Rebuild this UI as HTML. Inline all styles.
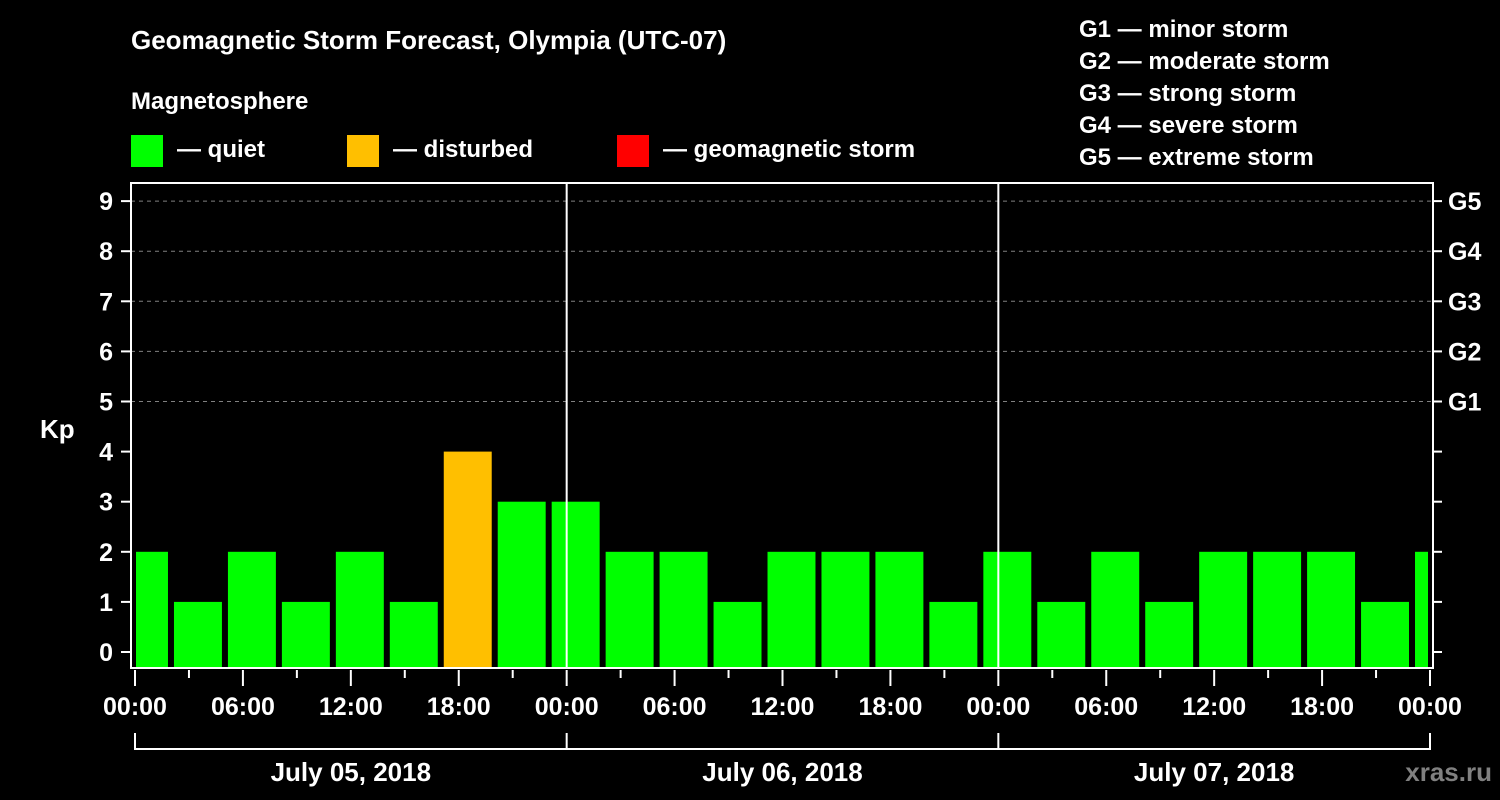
<!DOCTYPE html>
<html><head><meta charset="utf-8"><style>
html,body{margin:0;padding:0;background:#000;}
svg{display:block;font-family:"Liberation Sans",Arial,sans-serif;font-weight:bold;}
</style></head><body>
<svg id="chart" width="1500" height="800" viewBox="0 0 1500 800">
<rect x="0" y="0" width="1500" height="800" fill="#000"/>
<text x="131" y="49" fill="#fff" font-size="26">Geomagnetic Storm Forecast, Olympia (UTC-07)</text>
<text x="131" y="109" fill="#fff" font-size="24">Magnetosphere</text>
<g><rect x="131" y="135" width="32" height="32" fill="#00ff00"/><text x="177" y="157" fill="#fff" font-size="24">— quiet</text></g>
<g><rect x="347" y="135" width="32" height="32" fill="#ffbf00"/><text x="393" y="157" fill="#fff" font-size="24">— disturbed</text></g>
<g><rect x="617" y="135" width="32" height="32" fill="#ff0000"/><text x="663" y="157" fill="#fff" font-size="24">— geomagnetic storm</text></g>
<g fill="#fff" font-size="24">
<text x="1079" y="37">G1 — minor storm</text>
<text x="1079" y="69">G2 — moderate storm</text>
<text x="1079" y="101">G3 — strong storm</text>
<text x="1079" y="133">G4 — severe storm</text>
<text x="1079" y="165">G5 — extreme storm</text>
</g>
<text x="40" y="438" fill="#fff" font-size="26">Kp</text>
<text x="1492" y="781" fill="#808080" font-size="26" text-anchor="end">xras.ru</text>
<g id="grid"></g>
<g id="bars"></g>
<g id="axes"></g>
</svg>
<script>
const kpValues = [2,1,2,1,2,1,4,3,3,2,2,1,2,2,2,1,2,1,2,1,2,2,2,1,2];
const barStartHour = -1;
const barHours = 3;
const dayLabels = ["July 05, 2018","July 06, 2018","July 07, 2018"];
const timeLabels = ["00:00","06:00","12:00","18:00"];
const gLabels = ["G1","G2","G3","G4","G5"];
const yTicks = [0,1,2,3,4,5,6,7,8,9];

const NS = "http://www.w3.org/2000/svg";
const X0 = 135, X1 = 1430, TOTAL = 72;
const xs = h => X0 + (X1 - X0) * h / TOTAL;
const ys = v => 652 - v * 50.1;
const L = 131, R = 1433, T = 183, B = 668;
function mk(tag, attrs, parent, txt){
  const e = document.createElementNS(NS, tag);
  for (const k in attrs) e.setAttribute(k, attrs[k]);
  if (txt !== undefined) e.textContent = txt;
  parent.appendChild(e); return e;
}
const grid = document.getElementById('grid');
const bars = document.getElementById('bars');
const axes = document.getElementById('axes');

for (let v = 5; v <= 9; v++) {
  const ln = mk('line', {x1:L, x2:R, y1:ys(v), y2:ys(v), stroke:'#808080', 'stroke-width':1, 'stroke-dasharray':'4,4'}, grid);
  
  
}

kpValues.forEach((v, i) => {
  const h0 = barStartHour + i * barHours, h1 = h0 + barHours;
  const xa = Math.max(xs(h0) + 3, 136), xb = Math.min(xs(h1) - 3, 1428);
  const col = v >= 5 ? '#ff0000' : (v >= 4 ? '#ffbf00' : '#00ff00');
  const r = mk('rect', {x:xa, y:ys(v), width:xb - xa, height:B - ys(v), fill:col}, bars);
  
  
});

// day separators
for (let d = 1; d < 3; d++) {
  const ln = mk('line', {x1:xs(d*24), x2:xs(d*24), y1:T, y2:B, stroke:'#fff', 'stroke-width':2}, axes);
  
  
}
const frame = mk('rect', {x:L, y:T, width:R-L, height:B-T, fill:'none', stroke:'#fff', 'stroke-width':2}, axes);



yTicks.forEach(v => {
  mk('line', {x1:121, x2:L, y1:ys(v), y2:ys(v), stroke:'#fff', 'stroke-width':2}, axes);
  mk('line', {x1:R, x2:1442, y1:ys(v), y2:ys(v), stroke:'#fff', 'stroke-width':2}, axes);
  const t = mk('text', {x:113, y:ys(v)+9, fill:'#fff', 'font-size':25, 'text-anchor':'end'}, axes, String(v));
  
  
});
gLabels.forEach((g, i) => {
  const t = mk('text', {x:1448, y:ys(5+i)+9, fill:'#fff', 'font-size':25}, axes, g);
  
  
});
for (let h = 0; h <= TOTAL; h += 3) {
  const major = h % 6 === 0;
  mk('line', {x1:xs(h), x2:xs(h), y1:B+2, y2:B + (major ? 18 : 10), stroke:'#fff', 'stroke-width':2}, axes);
  if (major) {
    const t = mk('text', {x:xs(h), y:715, fill:'#fff', 'font-size':25, 'text-anchor':'middle'}, axes, timeLabels[(h % 24) / 6]);
    
    
  }
}
mk('line', {x1:X0, x2:X1, y1:749, y2:749, stroke:'#fff', 'stroke-width':2}, axes);
for (let d = 0; d <= 3; d++) mk('line', {x1:xs(d*24), x2:xs(d*24), y1:733, y2:750, stroke:'#fff', 'stroke-width':2}, axes);
dayLabels.forEach((lab, d) => {
  const t = mk('text', {x:xs(d*24+12), y:781, fill:'#fff', 'font-size':26, 'text-anchor':'middle'}, axes, lab);
  
  
});
</script>
</body></html>
